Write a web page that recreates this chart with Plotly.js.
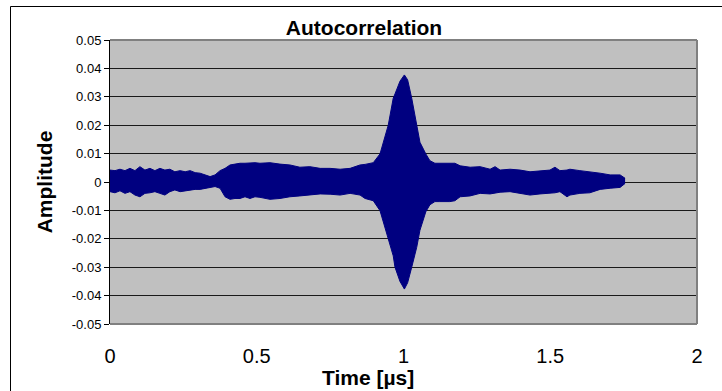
<!DOCTYPE html>
<html>
<head>
<meta charset="utf-8">
<script src="https://cdn.plot.ly/plotly-3.0.1.min.js"></script>
<style>html,body{margin:0;padding:0;background:#fff;}#chart{width:722px;height:391px;}</style>
</head>
<body>
<div id="chart"></div>
<script>
// Time samples (µs) along the envelope of the autocorrelation signal
const timeUs = [0.000,0.017,0.034,0.051,0.068,0.085,0.102,0.119,0.136,0.153,0.170,0.187,0.204,0.221,0.239,0.256,0.273,0.290,0.307,0.324,0.341,0.358,0.375,0.392,0.409,0.426,0.443,0.460,0.477,0.494,0.511,0.545,0.579,0.613,0.647,0.681,0.716,0.750,0.784,0.818,0.852,0.869,0.897,0.920,0.948,0.965,0.971,0.988,1.003,1.014,1.028,1.045,1.056,1.076,1.090,1.107,1.124,1.158,1.175,1.193,1.227,1.261,1.295,1.312,1.329,1.363,1.397,1.431,1.465,1.499,1.516,1.533,1.557,1.567,1.601,1.635,1.670,1.704,1.738,1.755];
// Upper envelope (positive swings) of the amplitude
const upperAmp = [0.0042,0.0040,0.0045,0.0040,0.0048,0.0040,0.0054,0.0042,0.0048,0.0040,0.0048,0.0042,0.0045,0.0036,0.0040,0.0036,0.0040,0.0033,0.0031,0.0025,0.0019,0.0025,0.0040,0.0048,0.0060,0.0063,0.0066,0.0066,0.0068,0.0068,0.0066,0.0068,0.0063,0.0060,0.0052,0.0054,0.0048,0.0048,0.0045,0.0048,0.0060,0.0062,0.0068,0.0099,0.0200,0.0295,0.0310,0.0355,0.0377,0.0360,0.0295,0.0200,0.0140,0.0099,0.0075,0.0066,0.0066,0.0068,0.0066,0.0057,0.0052,0.0054,0.0045,0.0054,0.0042,0.0045,0.0042,0.0036,0.0040,0.0042,0.0052,0.0040,0.0042,0.0045,0.0040,0.0036,0.0031,0.0025,0.0025,0.0013];
// Lower envelope (negative swings) of the amplitude
const lowerAmp = [-0.0034,-0.0038,-0.0031,-0.0040,-0.0034,-0.0046,-0.0052,-0.0040,-0.0038,-0.0034,-0.0040,-0.0046,-0.0034,-0.0028,-0.0034,-0.0031,-0.0028,-0.0026,-0.0026,-0.0022,-0.0019,-0.0016,-0.0022,-0.0052,-0.0061,-0.0058,-0.0058,-0.0052,-0.0058,-0.0052,-0.0054,-0.0061,-0.0058,-0.0052,-0.0049,-0.0046,-0.0042,-0.0043,-0.0046,-0.0040,-0.0046,-0.0058,-0.0066,-0.0101,-0.0200,-0.0260,-0.0300,-0.0350,-0.0377,-0.0355,-0.0300,-0.0230,-0.0170,-0.0105,-0.0080,-0.0069,-0.0069,-0.0069,-0.0066,-0.0052,-0.0049,-0.0040,-0.0042,-0.0038,-0.0036,-0.0034,-0.0040,-0.0046,-0.0042,-0.0040,-0.0038,-0.0034,-0.0052,-0.0046,-0.0040,-0.0038,-0.0026,-0.0022,-0.0019,-0.0005];
// Axis ticks
const yTickVals = [-0.05,-0.04,-0.03,-0.02,-0.01,0,0.01,0.02,0.03,0.04,0.05];
const yTickText = ["-0.05","-0.04","-0.03","-0.02","-0.01","0","0.01","0.02","0.03","0.04","0.05"];
const xTickVals = [0,0.5,1,1.5,2];
const xTickText = ["0","0.5","1","1.5","2"];

const NAVY = '#000080';
const FONT = 'Arial, "Liberation Sans", sans-serif';

const traces = [
  {x: timeUs, y: lowerAmp, type: 'scatter', mode: 'lines',
   line: {color: NAVY, width: 1}, hoverinfo: 'skip', showlegend: false},
  {x: timeUs, y: upperAmp, type: 'scatter', mode: 'lines', fill: 'tonexty',
   fillcolor: NAVY, line: {color: NAVY, width: 1}, hoverinfo: 'skip', showlegend: false}
];

const layout = {
  width: 722, height: 391,
  margin: {l: 110, r: 25, t: 40, b: 67},
  paper_bgcolor: '#ffffff',
  plot_bgcolor: '#c0c0c0',
  showlegend: false,
  font: {family: FONT, color: '#000'},
  title: {text: '<b>Autocorrelation</b>', font: {family: FONT, size: 21, color: '#000'},
          x: 364/722, xanchor: 'center', xref: 'container',
          y: 1 - 28/391, yanchor: 'middle', yref: 'container'},
  xaxis: {range: [0, 2], tickvals: xTickVals, ticktext: xTickText,
          showgrid: false, zeroline: false, showline: false, ticks: '',
          ticklabelstandoff: 18,
          tickfont: {family: FONT, size: 20, color: '#000'}},
  xaxis2: {overlaying: 'x', anchor: 'free', position: 0.5, side: 'bottom',
           range: [0, 2], tickvals: xTickVals, showticklabels: false,
           ticks: 'outside', ticklen: 5, tickcolor: '#000', tickwidth: 1,
           showline: true, linecolor: '#000', linewidth: 1,
           showgrid: false, zeroline: false, layer: 'below traces'},
  yaxis: {range: [-0.05, 0.05], tickvals: yTickVals, ticktext: yTickText,
          showgrid: true, gridcolor: '#1a1a1a', gridwidth: 1,
          zeroline: false, showline: true, linecolor: '#000', linewidth: 1,
          ticks: 'outside', ticklen: 5, tickcolor: '#000',
          tickfont: {family: FONT, size: 13, color: '#000'},
          title: {text: '<b>Amplitude</b>', font: {family: FONT, size: 21, color: '#000'}, standoff: 13}},
  annotations: [
    {text: '<b>Time [µs]</b>', xref: 'paper', yref: 'paper',
     x: (368-110)/587, y: (324-377)/284, xanchor: 'center', yanchor: 'middle',
     showarrow: false, font: {family: FONT, size: 21, color: '#000'}}
  ],
  shapes: [
    {type: 'line', xref: 'paper', yref: 'paper', x0: 0, x1: 1, y0: 1, y1: 1, line: {color: '#808080', width: 2}, layer: 'above'},
    {type: 'line', xref: 'paper', yref: 'paper', x0: 1, x1: 1, y0: 0, y1: 1, line: {color: '#808080', width: 2}, layer: 'above'},
    {type: 'line', xref: 'paper', yref: 'paper', x0: 0, x1: 1, y0: 0, y1: 0, line: {color: '#808080', width: 2}, layer: 'above'},
    {type: 'rect', xref: 'paper', yref: 'paper', x0: (10.5-110)/587, x1: (730-110)/587,
     y0: (324-400)/284, y1: (324-6.5)/284, line: {color: '#000', width: 1}, fillcolor: 'rgba(0,0,0,0)', layer: 'below'}
  ]
};

Plotly.newPlot('chart', traces, layout, {staticPlot: true, displayModeBar: false});
</script>
</body>
</html>
